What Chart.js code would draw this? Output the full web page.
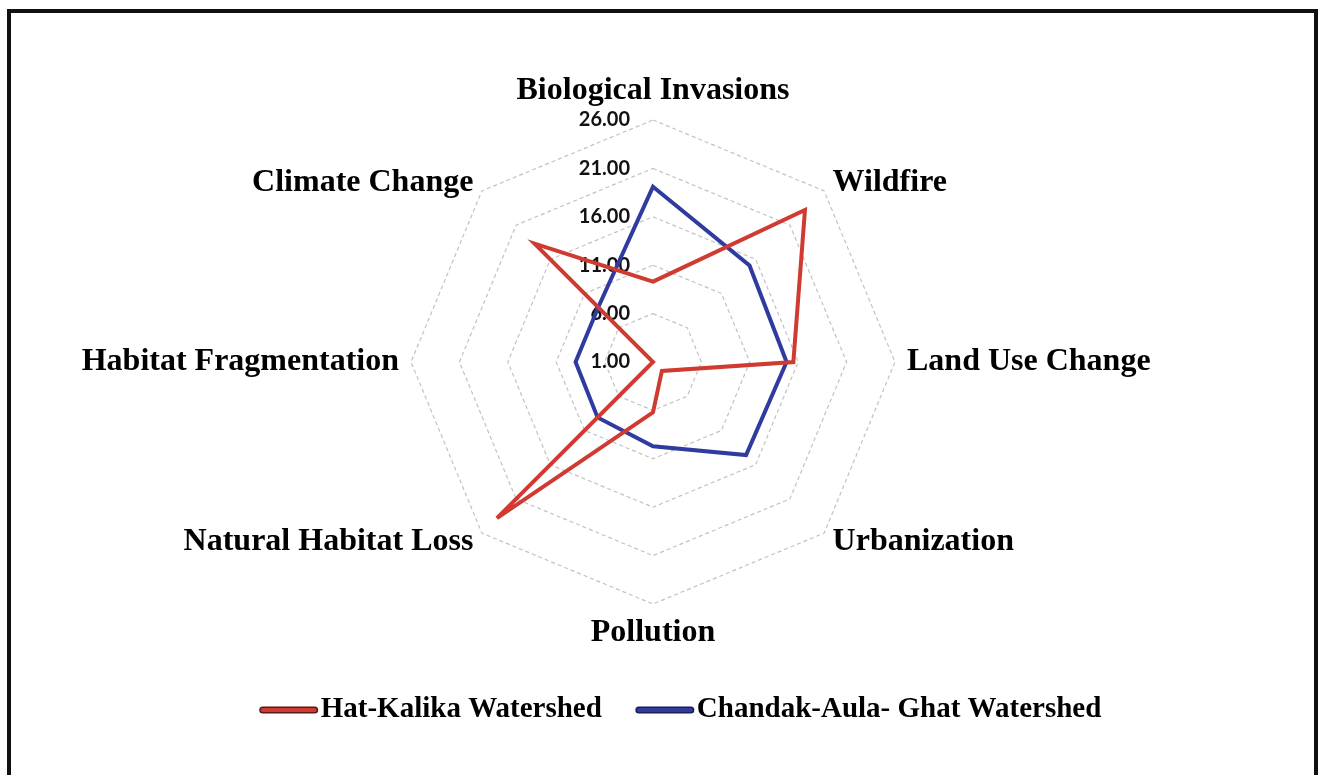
<!DOCTYPE html>
<html>
<head>
<meta charset="utf-8">
<title>Threat radar</title>
<script src="https://cdn.jsdelivr.net/npm/chart.js@4.4.1/dist/chart.umd.min.js"></script>
<style>
  html, body { margin: 0; padding: 0; background: #fff; }
  body { width: 1318px; height: 775px; position: relative; overflow: hidden; }
  .frame { position: absolute; left: 7px; top: 9px; width: 1311px; height: 800px; border: 4px solid #111; box-sizing: border-box; }
  #wrap { position: absolute; left: 0; top: 0; width: 1318px; height: 775px; }
</style>
</head>
<body>
<div class="frame"></div>
<div id="wrap"><canvas id="threatChart" width="1318" height="775"></canvas></div>
<script>
const threats = ['Biological Invasions', 'Wildfire', 'Land Use Change', 'Urbanization',
  'Pollution', 'Natural Habitat Loss', 'Habitat Fragmentation', 'Climate Change'];
const hatKalika = [9.3, 23.2, 15.5, 2.3, 6.2, 23.8, 1.0, 18.3];
const chandakAulaGhat = [19.1, 15.1, 14.8, 14.6, 9.7, 9.1, 9.0, 9.0];
const seriesNames = ['Hat-Kalika Watershed', 'Chandak-Aula- Ghat Watershed'];
const seriesColors = ['#cf3a31', '#2f3b9e'];
const tickValues = [1, 6, 11, 16, 21, 26];

// tick labels, point labels and legend drawn in Excel style
const excelText = {
  id: 'excelText',
  beforeDatasetsDraw(chart) {
    const r = chart.scales.r;
    const ctx = chart.ctx;
    ctx.save();
    ctx.fillStyle = '#111';
    ctx.font = 'bold 20px Lato';
    ctx.textAlign = 'right';
    ctx.textBaseline = 'middle';
    tickValues.forEach(v => {
      const y = r.yCenter - r.getDistanceFromCenterForValue(v);
      ctx.fillText(v.toFixed(2), r.xCenter - 23, y);
    });
    ctx.restore();
  },
  afterDraw(chart) {
    const r = chart.scales.r;
    const ctx = chart.ctx;
    ctx.save();
    ctx.fillStyle = '#000';
    ctx.font = 'bold 32px "Liberation Serif"';
    ctx.textBaseline = 'middle';
    threats.forEach((name, i) => {
      const p = r.getPointPosition(i, r.drawingArea + 12);
      const deg = Math.round(r.getIndexAngle(i) * 180 / Math.PI) % 360;
      let y = p.y;
      if (deg === 0) { ctx.textAlign = 'center'; y -= 17; }
      else if (deg === 180) { ctx.textAlign = 'center'; y += 17; }
      else if (deg < 180) ctx.textAlign = 'left';
      else ctx.textAlign = 'right';
      ctx.fillText(name, p.x, y);
    });

    // legend
    ctx.font = 'bold 29px "Liberation Serif"';
    ctx.textAlign = 'left';
    const sample = 56, gap = 4, itemGap = 35;
    const items = chart.data.datasets.map(ds => ({
      label: ds.label, color: ds.borderColor,
      w: sample + gap + ctx.measureText(ds.label).width
    }));
    const total = items.reduce((s, it) => s + it.w, 0) + itemGap * (items.length - 1);
    let x = 681 - total / 2;
    const y = 710;
    items.forEach(it => {
      ctx.lineCap = 'round';
      ctx.strokeStyle = '#5a1a1a';
      if (it.color === seriesColors[1]) ctx.strokeStyle = '#1a1f55';
      ctx.lineWidth = 7;
      ctx.beginPath(); ctx.moveTo(x + 2, y); ctx.lineTo(x + sample - 2, y); ctx.stroke();
      ctx.strokeStyle = it.color;
      ctx.lineWidth = 4;
      ctx.beginPath(); ctx.moveTo(x + 2, y); ctx.lineTo(x + sample - 2, y); ctx.stroke();
      ctx.fillStyle = '#000';
      ctx.fillText(it.label, x + sample + gap, y);
      x += it.w + itemGap;
    });
    ctx.restore();
  }
};

const ctx = document.getElementById('threatChart').getContext('2d');

new Chart(ctx, {
  type: 'radar',
  data: {
    labels: threats,
    datasets: [
      {
        label: seriesNames[0],
        data: hatKalika,
        borderColor: seriesColors[0],
        backgroundColor: 'transparent',
        borderWidth: 4,
        pointRadius: 0,
        fill: false
      },
      {
        label: seriesNames[1],
        data: chandakAulaGhat,
        borderColor: seriesColors[1],
        backgroundColor: 'transparent',
        borderWidth: 4,
        pointRadius: 0,
        fill: false
      }
    ]
  },
  options: {
    responsive: false,
    animation: false,
    devicePixelRatio: 1,
    layout: {
      padding: { top: 120, bottom: 171, left: 0, right: 12 }
    },
    plugins: {
      legend: { display: false },
      tooltip: { enabled: false }
    },
    scales: {
      r: {
        min: 1,
        max: 26,
        ticks: { display: false, stepSize: 5 },
        pointLabels: { display: false },
        angleLines: { display: false },
        grid: { color: '#c2c2c2', lineWidth: 1.2 },
        border: { dash: [4, 3] }
      }
    }
  },
  plugins: [excelText]
});
</script>
</body>
</html>
